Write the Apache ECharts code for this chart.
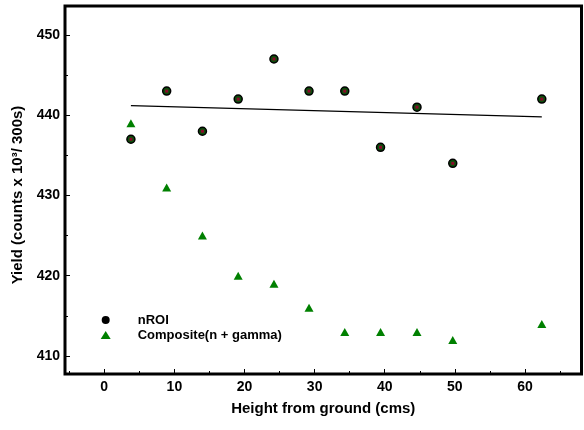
<!DOCTYPE html>
<html>
<head>
<meta charset="utf-8">
<script src="https://cdn.jsdelivr.net/npm/echarts@6/dist/echarts.min.js"></script>
<style>html,body{margin:0;padding:0;background:#fff}#c{width:584px;height:430px}</style>
</head>
<body>
<div id="c"></div>
<script>
var heights = [3.8, 8.9, 14.0, 19.1, 24.2, 29.2, 34.3, 39.4, 44.6, 49.7, 62.4];
var nROI = [437, 443, 438, 442, 447, 443, 443, 436, 441, 434, 442];
var composite = [439, 431, 425, 420, 419, 416, 413, 413, 413, 412, 414];
var fitX = [3.8, 62.4];
var fitY = [441.2, 439.8];
var seriesNames = ['nROI', 'Composite(n + gamma)'];
var xTitle = 'Height from ground (cms)';
var yTitle = 'Yield (counts x 10\u00B3/ 300s)';

function pairs(xs, ys) { return xs.map(function (x, i) { return [x, ys[i]]; }); }

var FONT = '"Liberation Sans", Arial, sans-serif';
var chart = echarts.init(document.getElementById('c'), null, {renderer: 'canvas'});
var axisCommon = {
  axisLine: {show: false, onZero: false},
  axisTick: {show: true, inside: true, length: 5, lineStyle: {color: '#000', width: 1}},
  minorTick: {show: true, splitNumber: 2, length: 3, lineStyle: {color: '#000', width: 1}},
  splitLine: {show: false},
  axisLabel: {color: '#000', fontWeight: 'bold', fontSize: 14, fontFamily: FONT, showMinLabel: false, showMaxLabel: false},
  nameTextStyle: {color: '#000', fontWeight: 'bold', fontSize: 15, fontFamily: FONT}
};
chart.setOption({
  animation: false,
  backgroundColor: '#fff',
  grid: {left: 65, right: 2.5, top: 6, bottom: 56, show: true, borderColor: '#000', borderWidth: 3, backgroundColor: 'transparent'},
  legend: {
    orient: 'vertical', left: 100.7, top: 312.5, padding: 0, itemWidth: 10, itemHeight: 8, itemGap: 0,
    textStyle: {color: '#000', fontWeight: 'bold', fontSize: 13, fontFamily: FONT, lineHeight: 15, padding: [0, 0, 0, 22]},
    data: [
      {name: seriesNames[0], icon: 'circle', itemStyle: {color: '#000', borderWidth: 0}},
      {name: seriesNames[1], icon: 'triangle', itemStyle: {color: '#008000', borderWidth: 0}}
    ]
  },
  xAxis: Object.assign({}, axisCommon, {
    type: 'value', min: -5.6, max: 68.06,
    name: xTitle, nameLocation: 'middle', nameGap: 27,
    axisLabel: Object.assign({}, axisCommon.axisLabel, {margin: 6})
  }),
  yAxis: Object.assign({}, axisCommon, {
    type: 'value', min: 407.76, max: 453.6,
    name: yTitle, nameLocation: 'middle', nameGap: 37,
    nameTextStyle: Object.assign({}, axisCommon.nameTextStyle, {padding: [0, 10, 0, 0]}),
    axisLabel: Object.assign({}, axisCommon.axisLabel, {margin: 5})
  }),
  series: [
    {
      name: 'fit', type: 'line', data: pairs(fitX, fitY), showSymbol: false, symbol: 'none',
      lineStyle: {color: '#000', width: 1.2}, z: 1, silent: true
    },
    {
      name: seriesNames[1], type: 'scatter', data: pairs(heights, composite),
      symbol: 'triangle', symbolSize: [9, 8], itemStyle: {color: '#008000', opacity: 1}, z: 2
    },
    {
      name: seriesNames[0], type: 'scatter', data: pairs(heights, nROI),
      symbol: 'circle', symbolSize: 8, itemStyle: {color: '#0b4f0b', borderColor: '#000', borderWidth: 1.5, opacity: 1}, z: 3
    },
    {
      name: 'nROI-center', type: 'scatter', data: pairs(heights, nROI),
      symbol: 'rect', symbolSize: 3, itemStyle: {color: '#8a0a2a', opacity: 1}, z: 4, silent: true
    }
  ]
});
</script>
</body>
</html>
